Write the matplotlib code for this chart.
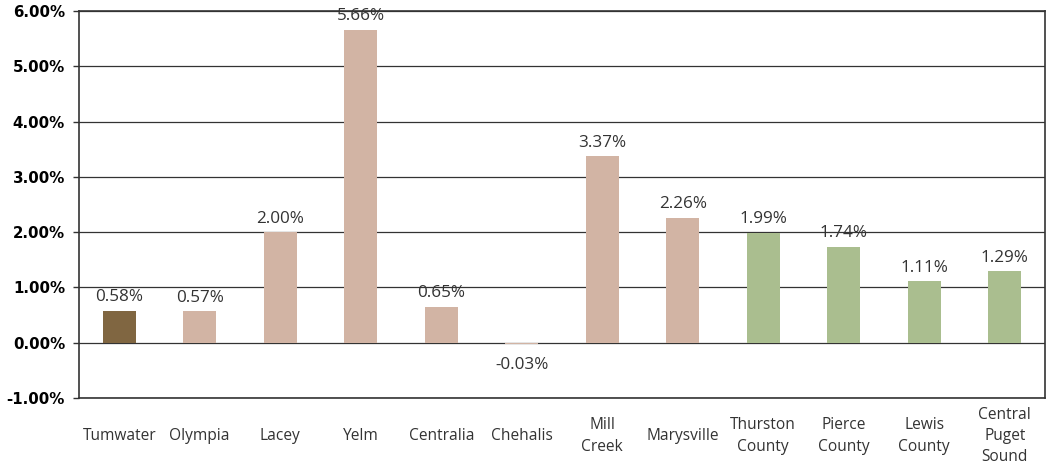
import matplotlib
matplotlib.use("Agg")
import matplotlib.pyplot as plt
import matplotlib.transforms as mtransforms
from matplotlib.ticker import FuncFormatter, MultipleLocator

categories = ["Tumwater", "Olympia", "Lacey", "Yelm", "Centralia", "Chehalis",
              "Mill\nCreek", "Marysville", "Thurston\nCounty", "Pierce\nCounty",
              "Lewis\nCounty", "Central\nPuget\nSound"]
values = [0.58, 0.57, 2.00, 5.66, 0.65, -0.03, 3.37, 2.26, 1.99, 1.74, 1.11, 1.29]
groups = ["focus", "city", "city", "city", "city", "city", "city", "city",
          "county", "county", "county", "county"]
group_colors = {"focus": "#806641", "city": "#D2B4A4", "county": "#AABE8F"}

fig = plt.figure(figsize=(10.49, 4.68), dpi=100)
ax = fig.add_axes([79/1049, 1-398/468, (1045-79)/1049, (398-11)/468])

x = list(range(len(categories)))
colors = [group_colors[g] for g in groups]
ax.bar(x, values, width=0.41, color=colors, zorder=3)

ax.set_xlim(-0.5, len(categories) - 0.5)
ax.set_ylim(-1, 6)
ax.yaxis.set_major_locator(MultipleLocator(1))
ax.yaxis.set_major_formatter(FuncFormatter(lambda v, p: f"{v:.2f}%"))
ax.grid(axis="y", color="#333333", linewidth=0.9, zorder=0)
for s in ax.spines.values():
    s.set_color("#333333")
    s.set_linewidth(1.2)

for lab in ax.get_yticklabels():
    lab.set_fontweight("bold")
ax.tick_params(axis="y", labelsize=10.8, length=4, width=1, color="#333333", pad=6)
ax.tick_params(axis="x", length=0)
ax.set_xticks([])

label_font = "Open Sans"
for xi, v in zip(x, values):
    if v >= 0:
        ax.annotate(f"{v:.2f}%", (xi, v), xytext=(0, 4), textcoords="offset points",
                    ha="center", va="bottom", fontsize=12.3, color="#333333",
                    family=label_font)
    else:
        ax.annotate(f"{v:.2f}%", (xi, v), xytext=(0, -9), textcoords="offset points",
                    ha="center", va="top", fontsize=12.3, color="#333333",
                    family=label_font)

trans = mtransforms.blended_transform_factory(ax.transData, fig.transFigure)
for xi, c in zip(x, categories):
    ax.text(xi, 1 - 436/468, c, transform=trans,
            ha="center", va="center", fontsize=11.2, color="#333333",
            family=label_font, linespacing=1.45)

fig.savefig("out.png", dpi=100)
